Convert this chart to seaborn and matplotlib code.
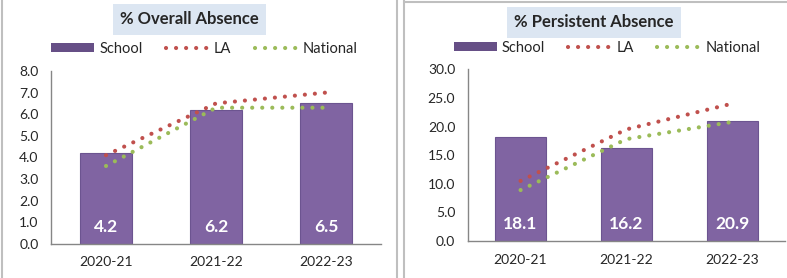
import matplotlib
matplotlib.use("Agg")
import matplotlib.pyplot as plt
from matplotlib.patches import Rectangle
from matplotlib.lines import Line2D
from matplotlib.ticker import FormatStrFormatter
import numpy as np
import pandas as pd
import seaborn as sns

years = ["2020-21", "2021-22", "2022-23"]

overall_school = [4.2, 6.2, 6.5]
overall_la = [4.1, 6.5, 7.0]
overall_national = [3.6, 6.3, 6.3]

persistent_school = [18.1, 16.2, 20.9]
persistent_la = [10.5, 19.5, 24.0]
persistent_national = [8.9, 17.8, 20.8]

PURPLE = "#8064A2"
RED = "#C0504D"
GREEN = "#9BBB59"
GREY = "#868686"
LW = 3
DOTS = (0, (0.01, 2.4))


def draw_panel(ax, school, la, national, ymax, step):
    df = pd.DataFrame({"Year": years, "School": school, "LA": la, "National": national})
    df["pos"] = np.arange(len(years))  # category slot of each year
    sns.barplot(data=df, x="Year", y="School", color=PURPLE, saturation=1,
                width=0.48, edgecolor="#6C5490", linewidth=0.8, ax=ax, zorder=2)
    for col, c in [("LA", RED), ("National", GREEN)]:
        sns.lineplot(data=df, x="pos", y=col, color=c, lw=LW, linestyle=DOTS,
                     dash_capstyle="round", ax=ax, zorder=3)
    for x, v in enumerate(school):
        ax.text(x, 0.098, f"{v:.1f}", transform=ax.get_xaxis_transform(),
                color="white", fontweight="bold", fontsize=12.5, ha="center", va="center", zorder=4)

    ax.set_ylim(0, ymax)
    ax.set_yticks(np.arange(0, ymax + step / 2, step))
    ax.yaxis.set_major_formatter(FormatStrFormatter("%.1f"))
    ax.set_xlim(-0.5, 2.5)
    ax.set_xticks([-0.5, 0.5, 1.5, 2.5])
    ax.set_xticklabels([])
    ax.set_xticks([0, 1, 2], minor=True)
    ax.set_xticklabels(years, minor=True)
    ax.tick_params(axis="x", which="major", length=4, color=GREY)
    ax.tick_params(axis="x", which="minor", length=0, pad=9, labelsize=10)
    ax.tick_params(axis="y", length=4, color=GREY, pad=5, labelsize=10)
    ax.set_xlabel("")
    ax.set_ylabel("")
    for s in ["top", "right"]:
        ax.spines[s].set_visible(False)
    for s in ["left", "bottom"]:
        ax.spines[s].set_color(GREY)
        ax.spines[s].set_linewidth(1)


sns.set_style("white")
plt.rcParams["font.family"] = ["Lato", "DejaVu Sans"]

fig = plt.figure(figsize=(7.87, 2.78), dpi=100)
ax1 = fig.add_axes([51 / 787, 34.3 / 278, 330 / 787, 172.7 / 278])
ax2 = fig.add_axes([467.7 / 787, 37 / 278, 317.3 / 787, 171.7 / 278])

draw_panel(ax1, overall_school, overall_la, overall_national, 8, 1)
draw_panel(ax2, persistent_school, persistent_la, persistent_national, 30, 5)

# titles
fig.text(189.5 / 787, 1 - 19.5 / 278, "% Overall Absence", fontsize=12, fontweight="bold",
         ha="center", va="center",
         bbox=dict(boxstyle="square,pad=0.45", facecolor="#DCE6F2", edgecolor="none"))
fig.text(594 / 787, 1 - 22 / 278, "% Persistent Absence", fontsize=12, fontweight="bold",
         ha="center", va="center",
         bbox=dict(boxstyle="square,pad=0.45", facecolor="#DCE6F2", edgecolor="none"))

# legends
handles = [Rectangle((0, 0), 1, 1, facecolor="#664F86", edgecolor="none"),
           Line2D([], [], color=RED, lw=LW, linestyle=DOTS, dash_capstyle="round"),
           Line2D([], [], color=GREEN, lw=LW, linestyle=DOTS, dash_capstyle="round")]
labels = ["School", "LA", "National"]
for cx, cy in [(204.5, 49), (607, 48)]:
    fig.legend(handles, labels, loc="center", bbox_to_anchor=(cx / 787, 1 - cy / 278),
               ncol=3, frameon=False, fontsize=10.5, handlelength=2.95, handleheight=0.6,
               handletextpad=0.35, columnspacing=1.6, borderpad=0, borderaxespad=0)

# chart area borders
for x in [1.5, 397, 404]:
    fig.add_artist(Line2D([x / 787, x / 787], [0, 1], transform=fig.transFigure,
                          color="#BFBFBF", lw=1.5))
fig.add_artist(Line2D([404 / 787, 1], [1 - 1.5 / 278, 1 - 1.5 / 278], transform=fig.transFigure,
                      color="#BFBFBF", lw=1.5))

fig.savefig("out.png", dpi=100)
